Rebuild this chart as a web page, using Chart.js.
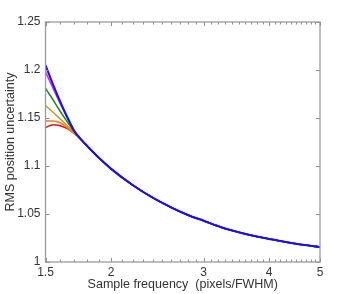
<!DOCTYPE html>
<html>
<head>
<meta charset="utf-8">
<script src="https://cdn.jsdelivr.net/npm/chart.js@4"></script>
<style>
  html, body { margin: 0; padding: 0; background: #fff; }
  #wrap { width: 354px; height: 294px; }
</style>
</head>
<body>
<div id="wrap"><canvas id="chart" width="354" height="294"></canvas></div>
<script>
// sample frequency (pixels/FWHM)
const freq = [1.5, 1.55, 1.6, 1.65, 1.7, 1.75, 1.8, 1.9, 2.0, 2.2, 2.4, 2.6, 2.8, 3.0, 3.25, 3.5, 3.75, 4.0, 4.5, 5.0];

// RMS position uncertainty, one curve per colour
const blueY    = [1.205, 1.185, 1.167, 1.151, 1.137, 1.128, 1.121, 1.108, 1.097, 1.080, 1.067, 1.057, 1.049, 1.043, 1.036, 1.031, 1.027, 1.024, 1.019, 1.0155];
const magentaY = [1.198, 1.181, 1.165, 1.150, 1.137, 1.128, 1.121, 1.108, 1.097, 1.080, 1.067, 1.057, 1.049, 1.043, 1.036, 1.031, 1.027, 1.024, 1.019, 1.0155];
const greenY   = [1.181, 1.169, 1.157, 1.146, 1.136, 1.128, 1.121, 1.108, 1.097, 1.080, 1.067, 1.057, 1.049, 1.043, 1.036, 1.031, 1.027, 1.024, 1.019, 1.0155];
const goldY    = [1.163, 1.156, 1.149, 1.142, 1.135, 1.128, 1.121, 1.108, 1.097, 1.080, 1.067, 1.057, 1.049, 1.043, 1.036, 1.031, 1.027, 1.024, 1.019, 1.0155];
const orangeY  = [1.147, 1.147, 1.145, 1.140, 1.134, 1.128, 1.121, 1.108, 1.097, 1.080, 1.067, 1.057, 1.049, 1.043, 1.036, 1.031, 1.027, 1.024, 1.019, 1.0155];
const redY     = [1.140, 1.143, 1.142, 1.139, 1.134, 1.128, 1.121, 1.108, 1.097, 1.080, 1.067, 1.057, 1.049, 1.043, 1.036, 1.031, 1.027, 1.024, 1.019, 1.0155];

// axis ticks
const xMajor = [1.5, 2, 3, 4, 5];
const xMinor = [1.6, 1.7, 1.8, 1.9, 2.1, 2.2, 2.3, 2.4, 2.5, 2.6, 2.7, 2.8, 2.9,
                3.1, 3.2, 3.3, 3.4, 3.5, 3.6, 3.7, 3.8, 3.9, 4.1, 4.2, 4.3, 4.4, 4.5, 4.6, 4.7, 4.8, 4.9];
const yTicks = [1, 1.05, 1.1, 1.15, 1.2, 1.25];

const toPts = ys => freq.map((f, i) => ({ x: f, y: ys[i] }));

function line(label, ys, color, w) {
  return {
    label: label,
    data: toPts(ys),
    borderColor: color,
    borderWidth: w,
    pointRadius: 0,
    fill: false,
    cubicInterpolationMode: 'monotone'
  };
}

// frame + inward ticks on all four sides, like gnuplot
const framePlugin = {
  id: 'frame',
  afterDatasetsDraw(chart) {
    const { ctx, chartArea: a, scales } = chart;
    const xs = scales.x, ys = scales.y;
    ctx.save();
    ctx.strokeStyle = '#8c8c8c';
    ctx.lineWidth = 1;
    ctx.beginPath();
    xMajor.concat(xMinor).forEach(v => {
      const px = Math.round(xs.getPixelForValue(v)) + 0.5;
      const len = xMajor.includes(v) ? 4 : 2.5;
      ctx.moveTo(px, a.bottom); ctx.lineTo(px, a.bottom - len);
      ctx.moveTo(px, a.top); ctx.lineTo(px, a.top + len);
    });
    yTicks.forEach(v => {
      const py = Math.round(ys.getPixelForValue(v)) + 0.5;
      ctx.moveTo(a.left, py); ctx.lineTo(a.left + 4, py);
      ctx.moveTo(a.right, py); ctx.lineTo(a.right - 4, py);
    });
    ctx.stroke();
    ctx.strokeStyle = '#9a9a9a';
    ctx.lineWidth = 1.3;
    ctx.strokeRect(a.left, a.top, a.right - a.left, a.bottom - a.top);
    ctx.restore();
  }
};

Chart.defaults.font.family = "'Liberation Sans', Arial, sans-serif";
Chart.defaults.color = '#333';

new Chart(document.getElementById('chart'), {
  type: 'line',
  data: {
    datasets: [
      line('blue', blueY, '#1010ff', 2),
      line('magenta', magentaY, '#e020e0', 1.5),
      line('green', greenY, '#1a8a1a', 1.5),
      line('gold', goldY, '#c09a20', 1.5),
      line('orange', orangeY, '#ff7a1a', 1.5),
      line('red', redY, '#e81010', 1.5)
    ]
  },
  options: {
    responsive: false,
    animation: false,
    layout: { padding: { top: 22, right: 34, left: 0, bottom: 0 } },
    plugins: { legend: { display: false }, tooltip: { enabled: false } },
    scales: {
      x: {
        type: 'logarithmic',
        min: 1.5, max: 5,
        afterBuildTicks: s => { s.ticks = xMajor.map(v => ({ value: v })); },
        afterFit: s => { s.height = 32; },
        grid: { display: false, drawTicks: false },
        border: { display: false },
        ticks: {
          autoSkip: false, maxRotation: 0, padding: 3,
          font: { size: 12 }, color: '#333',
          callback: v => String(v)
        },
        title: {
          display: true, text: 'Sample frequency  (pixels/FWHM)',
          font: { size: 12.5 }, color: '#333', padding: { top: 0, bottom: 2 }
        }
      },
      y: {
        type: 'linear',
        min: 1, max: 1.25,
        afterBuildTicks: s => { s.ticks = yTicks.map(v => ({ value: v })); },
        afterFit: s => { s.width = 45.5; },
        grid: { display: false, drawTicks: false },
        border: { display: false },
        ticks: {
          padding: 5, font: { size: 12 }, color: '#333',
          callback: v => String(v)
        },
        title: {
          display: true, text: 'RMS position uncertainty',
          font: { size: 12.5 }, color: '#333', padding: { top: 3, bottom: 0 }
        }
      }
    }
  },
  plugins: [framePlugin]
});
</script>
</body>
</html>
